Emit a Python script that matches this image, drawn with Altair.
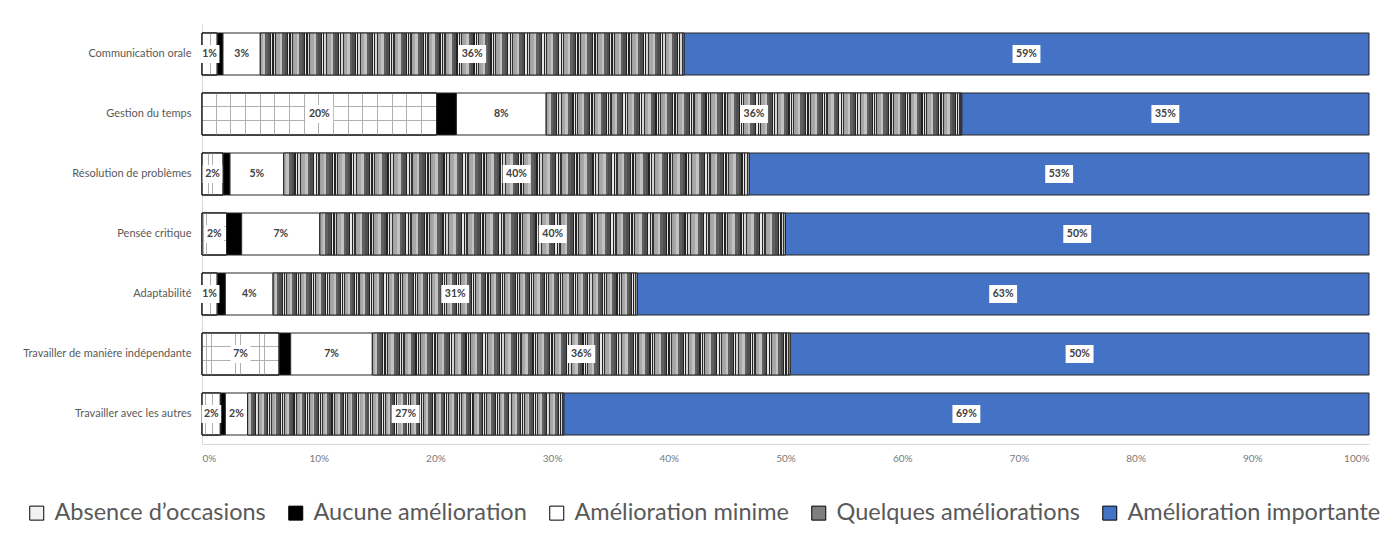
import altair as alt
import pandas as pd

categories = [
    "Communication orale",
    "Gestion du temps",
    "Résolution de problèmes",
    "Pensée critique",
    "Adaptabilité",
    "Travailler de manière indépendante",
    "Travailler avec les autres",
]
levels = [
    "Absence d’occasions",
    "Aucune amélioration",
    "Amélioration minime",
    "Quelques améliorations",
    "Amélioration importante",
]
absence = [1.3, 20.1, 1.8, 2.1, 1.3, 6.6, 1.6]
aucune = [0.5, 1.7, 0.6, 1.3, 0.7, 1.0, 0.4]
minime = [3.2, 7.7, 4.6, 6.7, 4.1, 7.0, 1.9]
quelques = [36.3, 35.6, 39.9, 39.9, 31.2, 35.8, 27.1]
importante = [58.7, 34.9, 53.1, 50.0, 62.7, 49.6, 69.0]
x_ticks = list(range(0, 101, 10))

level_colors = ["#f2f2f2", "#000000", "#ffffff", "#7f7f7f", "#4472c4"]

series = [absence, aucune, minime, quelques, importante]
rows = []
for li, (lev, vals) in enumerate(zip(levels, series)):
    for cat, v in zip(categories, vals):
        rows.append({"cat": cat, "level": lev, "order": li, "value": v})
df = pd.DataFrame(rows)


def pattern(segments, repeats, horizontal=True):
    total = sum(w for _, w in segments) * repeats
    stops = []
    pos = 0
    for _ in range(repeats):
        for c, w in segments:
            a = min(1.0, round(pos / total, 5))
            pos += w
            b = min(1.0, round(pos / total, 5))
            stops.append(alt.GradientStop(color=c, offset=a))
            stops.append(alt.GradientStop(color=c, offset=b))
    return alt.LinearGradient(
        gradient="linear", stops=stops,
        x1=0, y1=0, x2=1 if horizontal else 0, y2=0 if horizontal else 1,
    )


stripe_fill = pattern(
    [("#a8a8a8", 2), ("#c2c2c2", 2), ("#606060", 2), ("#4e4e4e", 2),
     ("#222222", 1), ("#e8e8e8", 1), ("#222222", 1), ("#d4d4d4", 1),
     ("#333333", 1), ("#a0a0a0", 1)],
    25,
)
grid_h = pattern([("#ffffff", 13), ("#b0b0b0", 1)], 3, horizontal=False)
grid_v = pattern([("rgba(0,0,0,0)", 13), ("#b0b0b0", 1)], 16)

FONT = "Lato"
STROKE = "#262626"

base = alt.Chart(df).transform_stack(
    stack="value", groupby=["cat"], as_=["x0", "x1"],
    sort=[alt.SortField("order", order="ascending")],
).transform_calculate(
    mid="(datum.x0 + datum.x1) / 2",
    label="format(datum.value, '.0f') + '%'",
)

y_enc = alt.Y(
    "cat:N", sort=categories,
    scale=alt.Scale(paddingInner=0.3, paddingOuter=0.15),
    axis=alt.Axis(
        title=None, labelFont=FONT, labelFontSize=11, labelColor="#595959",
        ticks=False, labelPadding=11, domainColor="#d9d9d9", grid=False,
        minExtent=189, maxExtent=189, labelLimit=300,
    ),
)
x_enc = alt.X(
    "x0:Q",
    scale=alt.Scale(domain=[0, 100], nice=False),
    axis=alt.Axis(
        title=None, values=x_ticks, labelExpr="datum.value + '%'",
        labelFont=FONT, labelFontSize=10, labelColor="#7a7a7a",
        ticks=False, grid=False, domainColor="#d9d9d9", labelPadding=9,
    ),
)

bars = base.mark_bar(stroke=STROKE, strokeWidth=1, opacity=1).encode(
    x=x_enc, x2="x1:Q", y=y_enc,
    color=alt.Color(
        "level:N",
        scale=alt.Scale(domain=levels, range=level_colors),
        legend=alt.Legend(
            title=None, orient="none", legendX=-177, legendY=477,
            direction="horizontal", columns=5, symbolType="square",
            symbolSize=196, symbolStrokeColor="#000000", symbolStrokeWidth=1,
            symbolOpacity=1, labelFont=FONT, labelFontSize=23.5,
            labelColor="#595959", labelLimit=500, columnPadding=18,
            labelOffset=6, padding=0,
        ),
    ),
)

stripes = base.transform_filter(alt.datum.level == levels[3]).mark_bar(
    fill=stripe_fill, stroke=STROKE, strokeWidth=1
).encode(x=x_enc, x2="x1:Q", y=y_enc)

abs_h = base.transform_filter(alt.datum.level == levels[0]).mark_bar(
    fill=grid_h, stroke=STROKE, strokeWidth=1
).encode(x=x_enc, x2="x1:Q", y=y_enc)

abs_v = base.transform_filter(alt.datum.level == levels[0]).mark_bar(
    fill=grid_v, stroke=STROKE, strokeWidth=1
).encode(x=x_enc, x2="x1:Q", y=y_enc)

labelled = base.transform_filter(alt.datum.level != levels[1])

box3 = labelled.transform_filter("length(datum.label) >= 3").mark_point(
    shape="M-1.55,-1L1.55,-1L1.55,1L-1.55,1Z", size=324, filled=True,
    color="white", opacity=1, strokeWidth=0,
).encode(x=alt.X("mid:Q"), y=y_enc)

box2 = labelled.transform_filter("length(datum.label) < 3").mark_point(
    shape="M-1.1,-1L1.1,-1L1.1,1L-1.1,1Z", size=324, filled=True,
    color="white", opacity=1, strokeWidth=0,
).encode(x=alt.X("mid:Q"), y=y_enc)

texts = labelled.mark_text(
    font=FONT, fontSize=10.5, fontWeight="bold", color="#404040"
).encode(x=alt.X("mid:Q"), y=y_enc, text="label:N")

chart = alt.layer(bars, stripes, abs_h, abs_v, box3, box2, texts).properties(
    width=1167, height=420,
    padding={"left": 5, "top": 16, "right": 0, "bottom": 5},
).configure_view(stroke=None)

chart.save("out.html", embed_options={"renderer": "svg", "actions": False})
